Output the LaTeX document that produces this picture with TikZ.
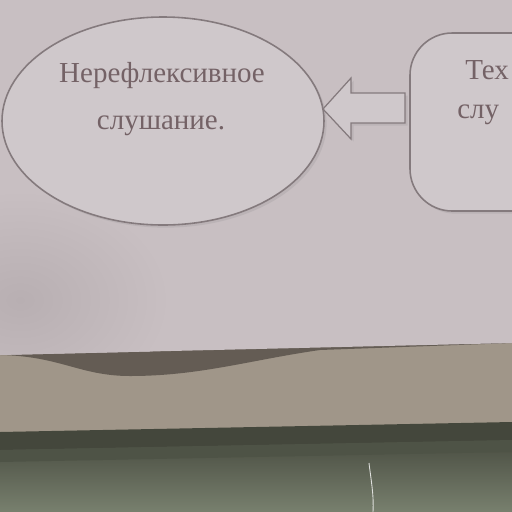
\documentclass[tikz,border=0pt]{standalone}
\usepackage{fontspec}
\setmainfont{Liberation Serif}
\usetikzlibrary{shadows,calc}
\definecolor{paper}{RGB}{200,191,194}
\definecolor{paperdark}{RGB}{184,175,178}
\definecolor{shapefill}{RGB}{207,200,203}
\definecolor{shapeline}{RGB}{132,122,125}
\definecolor{inktext}{RGB}{116,98,102}
\definecolor{board}{RGB}{160,150,137}
\definecolor{boardshade}{RGB}{100,92,84}
\definecolor{wallgap}{RGB}{68,71,60}
\definecolor{wall}{RGB}{94,100,84}
\definecolor{walllight}{RGB}{120,128,110}
\tikzset{
  outline/.style={draw=shapeline, line width=0.9pt, fill=shapefill,
    drop shadow={opacity=0.18, shadow xshift=1.5pt, shadow yshift=-1.5pt}},
  label/.style={text=inktext, font=\fontsize{16.5}{20}\selectfont, inner sep=0pt, anchor=base}
}
\begin{document}
\begin{tikzpicture}[x=0.02cm, y=-0.02cm]
\useasboundingbox (0,0) rectangle (512,512);
% wall and shelf behind the sheet
\shade[top color=wallgap, bottom color=walllight] (0,430) rectangle (512,512);
\fill[board] (0,340) rectangle (512,434);
\fill[wallgap] (0,432) -- (512,422) -- (512,440) -- (0,450) -- cycle;
\fill[wallgap!60!wall] (0,450) -- (512,440) -- (512,452) -- (0,462) -- cycle;
% shadow of the sheet on the board
\fill[boardshade] (0,355) .. controls (60,356) and (80,376) .. (130,376)
  .. controls (200,376) and (250,360) .. (320,350) -- (512,343) -- (512,340) -- (0,340) -- cycle;
% sheet of paper
\path[fill=paper] (0,0) -- (512,0) -- (512,343) -- (0,355) -- cycle;
\begin{scope}
  \clip (0,0) -- (512,0) -- (512,343) -- (0,355) -- cycle;
  \shade[inner color=paperdark, outer color=paper] (20,300) ellipse [x radius=150, y radius=110];
\end{scope}
% scratch on the wall
\draw[white!80!wall, line width=0.5pt] (369,463) .. controls (371,480) and (374,495) .. (373,512);
% diagram
\draw[outline] (163,121) ellipse [x radius=161, y radius=104];
\node[label] (t1) at (162,82) {Нерефлексивное};
\node[label] (t2) at (161,129) {слушание.};
\draw[outline, rounded corners=24] (410,33) -- (410,211) -- (560,211) -- (560,33) -- cycle;
\node[label, anchor=base west] (r1) at (465,79) {Тех};
\node[label, anchor=base west] (r2) at (457,118) {слу};
\coordinate (tip) at (323,109);
\draw[outline, line width=0.7pt] (tip) -- (351,78) -- (351,93) -- (405,93) -- (405,123) -- (351,123) -- (351,139) -- cycle;
\end{tikzpicture}
\end{document}
